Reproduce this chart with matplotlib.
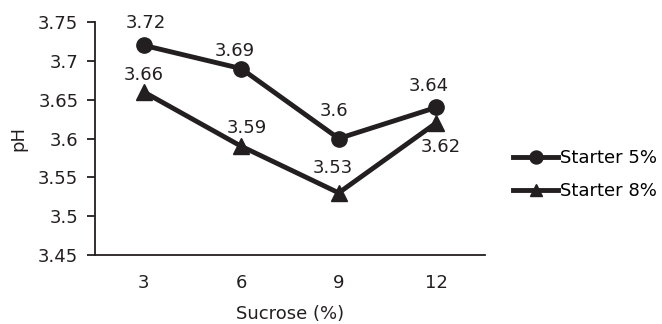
import matplotlib.pyplot as plt

sucrose = ['3', '6', '9', '12']
starter_5 = [3.72, 3.69, 3.60, 3.64]
starter_8 = [3.66, 3.59, 3.53, 3.62]
labels_5 = ['3.72', '3.69', '3.6', '3.64']
labels_8 = ['3.66', '3.59', '3.53', '3.62']

plt.rcParams['font.family'] = ['DejaVu Sans']
col = '#231f20'
fs = 13

fig = plt.figure(figsize=(6.62, 3.24), dpi=100)
ax = fig.add_axes([0.1435, 0.213, 0.589, 0.719])

x = range(len(sucrose))
ax.plot(x, starter_5, color=col, lw=3.5, marker='o', ms=11, label='Starter 5%')
ax.plot(x, starter_8, color=col, lw=3.5, marker='^', ms=11, label='Starter 8%')

# etiquetas dos pontos (deslocamento em pixels)
off5 = [(2, 22), (-6, 18), (-5, 28), (-7, 21)]
off8 = [(0, 17), (6, 18), (-6, 25), (5, -24)]
for i in x:
    ax.annotate(labels_5[i], (i, starter_5[i]), xytext=off5[i], textcoords='offset pixels',
                ha='center', va='center', fontsize=fs, color=col)
    ax.annotate(labels_8[i], (i, starter_8[i]), xytext=off8[i], textcoords='offset pixels',
                ha='center', va='center', fontsize=fs, color=col)

ax.set_xlim(-0.5, 3.5)
ax.set_ylim(3.45, 3.75)
ax.set_xticks(list(x))
ax.set_xticklabels(sucrose)
ax.set_yticks([3.45, 3.5, 3.55, 3.6, 3.65, 3.7, 3.75])
ax.set_yticklabels(['3.45', '3.5', '3.55', '3.6', '3.65', '3.7', '3.75'])
ax.tick_params(axis='x', length=0, pad=14, labelsize=fs, colors=col)
ax.tick_params(axis='y', length=6, width=1.3, pad=6, labelsize=fs, colors=col)
ax.spines['top'].set_visible(False)
ax.spines['right'].set_visible(False)
for s in ['left', 'bottom']:
    ax.spines[s].set_linewidth(1.3)
    ax.spines[s].set_color(col)
ax.set_xlabel('Sucrose (%)', fontsize=fs, color=col, labelpad=9)
ax.set_ylabel('pH', fontsize=fs, color=col, labelpad=8)

fig.legend(*ax.get_legend_handles_labels(), loc='center left', bbox_to_anchor=(0.775, 0.461),
           frameon=False, fontsize=fs, handlelength=2.5, handletextpad=0.1,
           labelspacing=0.8, borderpad=0, borderaxespad=0, markerscale=0.85)

fig.savefig('out.png', dpi=100)
